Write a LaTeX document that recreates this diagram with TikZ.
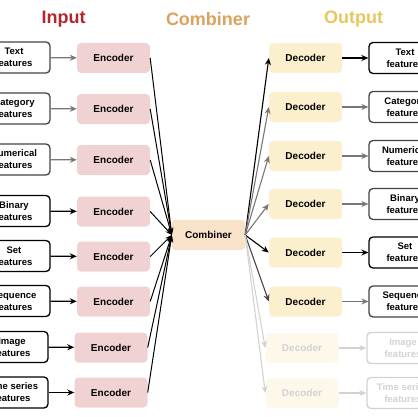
\documentclass[tikz,border=0pt]{standalone}
\usepackage{fontspec}
\setmainfont{Liberation Sans}
\usetikzlibrary{arrows.meta}
\definecolor{inred}{HTML}{B3262B}
\definecolor{combor}{HTML}{DDA25E}
\definecolor{outgold}{HTML}{E8C75E}
\definecolor{encfill}{HTML}{F0D2D2}
\definecolor{decfill}{HTML}{FBEFCE}
\definecolor{combfill}{HTML}{F8E2CA}
\definecolor{midgray}{HTML}{777777}
\definecolor{darkgray}{HTML}{444444}
\definecolor{fadegray}{HTML}{D2D2D2}
\definecolor{fadefill}{HTML}{FDF8EA}
\begin{document}
\begin{tikzpicture}[x=1pt,y=-1pt,
  title/.style={font=\bfseries\fontsize{18}{20}\selectfont},
  feat/.style={draw, rounded corners=4pt, line width=1.3pt, minimum width=72pt, minimum height=31pt, align=center, inner sep=0pt, font=\bfseries\fontsize{9.5}{12}\selectfont},
  enc/.style={fill=encfill, rounded corners=4pt, minimum width=73pt, minimum height=30pt, inner sep=0pt, font=\bfseries\fontsize{10}{12}\selectfont},
  dec/.style={fill=decfill, rounded corners=4pt, minimum width=73pt, minimum height=30pt, inner sep=0pt, font=\bfseries\fontsize{10}{12}\selectfont},
  comb/.style={fill=combfill, rounded corners=3pt, minimum width=73pt, minimum height=30pt, inner sep=0pt, font=\bfseries\fontsize{10}{12}\selectfont},
  arr/.style={-{Stealth[length=7pt,width=6pt]}, line width=1.3pt},
  conv/.style={-{Stealth[length=7pt,width=5pt]}, line width=1pt, black},
  fade/.style={draw=fadegray, text=fadegray}
]
\useasboundingbox (0,0) rectangle (417,417);
% titles
\node[title, text=inred] (tin) at (63.5,19.5) {Input};
\node[title, text=combor] (tcomb) at (208,19.5) {Combiner};
\node[title, text=outgold] (tout) at (353.5,19.5) {Output};

% input side
\node[feat, draw=darkgray] (f1) at (14,57.5) {Text\\features};
\node[feat, draw=darkgray] (f2) at (14,108.5) {Category\\features};
\node[feat, draw=darkgray] (f3) at (14,159.5) {Numerical\\features};
\node[feat, draw=black] (f4) at (14,211) {Binary\\features};
\node[feat, draw=black] (f5) at (14,256) {Set\\features};
\node[feat, draw=black] (f6) at (14,301) {Sequence\\features};
\node[feat, draw=black] (f7) at (12,347) {Image\\features};
\node[feat, draw=black] (f8) at (12,392.5) {Time series\\features};

\node[enc] (e1) at (113.5,58) {Encoder};
\node[enc] (e2) at (113.5,109) {Encoder};
\node[enc] (e3) at (113.5,160) {Encoder};
\node[enc] (e4) at (113.5,211.5) {Encoder};
\node[enc] (e5) at (113.5,256.5) {Encoder};
\node[enc] (e6) at (113.5,301.5) {Encoder};
\node[enc] (e7) at (111,347.5) {Encoder};
\node[enc] (e8) at (111,392.5) {Encoder};

\draw[arr, midgray] (f1) -- (e1);
\draw[arr, midgray] (f2) -- (e2);
\draw[arr, midgray] (f3) -- (e3);
\draw[arr, black] (f4) -- (e4);
\draw[arr, black] (f5) -- (e5);
\draw[arr, black] (f6) -- (e6);
\draw[arr, black] (f7) -- (e7);
\draw[arr, black] (f8) -- (e8);

% combiner
\node[comb] (c) at (208.5,235) {Combiner};
\foreach \i in {1,...,8} \draw[conv] (e\i.east) -- (c.west);

% output side
\node[dec] (d1) at (305.5,58) {Decoder};
\node[dec] (d2) at (305.5,107) {Decoder};
\node[dec] (d3) at (305.5,156) {Decoder};
\node[dec] (d4) at (305.5,204) {Decoder};
\node[dec] (d5) at (305.5,252.5) {Decoder};
\node[dec] (d6) at (305.5,301.5) {Decoder};
\node[dec, fill=fadefill, text=fadegray] (d7) at (302,348) {Decoder};
\node[dec, fill=fadefill, text=fadegray] (d8) at (302,393) {Decoder};

\node[feat, draw=black] (o1) at (405,58) {Text\\features};
\node[feat, draw=darkgray] (o2) at (405,107) {Category\\features};
\node[feat, draw=darkgray] (o3) at (405,156) {Numerical\\features};
\node[feat, draw=darkgray] (o4) at (405,204) {Binary\\features};
\node[feat, draw=black] (o5) at (405,252.5) {Set\\features};
\node[feat, draw=darkgray] (o6) at (405,301.5) {Sequence\\features};
\node[feat, fade] (o7) at (403,348) {Image\\features};
\node[feat, fade] (o8) at (403,393) {Time series\\features};

\draw[arr, line width=1.1pt, black] (c.east) -- (d1.west);
\draw[arr, line width=1.1pt, midgray] (c.east) -- (d2.west);
\draw[arr, line width=1.1pt, midgray] (c.east) -- (d3.west);
\draw[arr, line width=1.1pt, midgray] (c.east) -- (d4.west);
\draw[arr, line width=1.1pt, black] (c.east) -- (d5.west);
\draw[arr, line width=1.1pt, darkgray] (c.east) -- (d6.west);
\draw[arr, line width=1.1pt, fadegray] (c.east) -- (d7.west);
\draw[arr, line width=1.1pt, fadegray] (c.east) -- (d8.west);

\draw[arr, black] (d1) -- (o1);
\draw[arr, midgray] (d2) -- (o2);
\draw[arr, midgray] (d3) -- (o3);
\draw[arr, midgray] (d4) -- (o4);
\draw[arr, black] (d5) -- (o5);
\draw[arr, midgray] (d6) -- (o6);
\draw[arr, fadegray] (d7) -- (o7);
\draw[arr, fadegray] (d8) -- (o8);
\end{tikzpicture}
\end{document}
